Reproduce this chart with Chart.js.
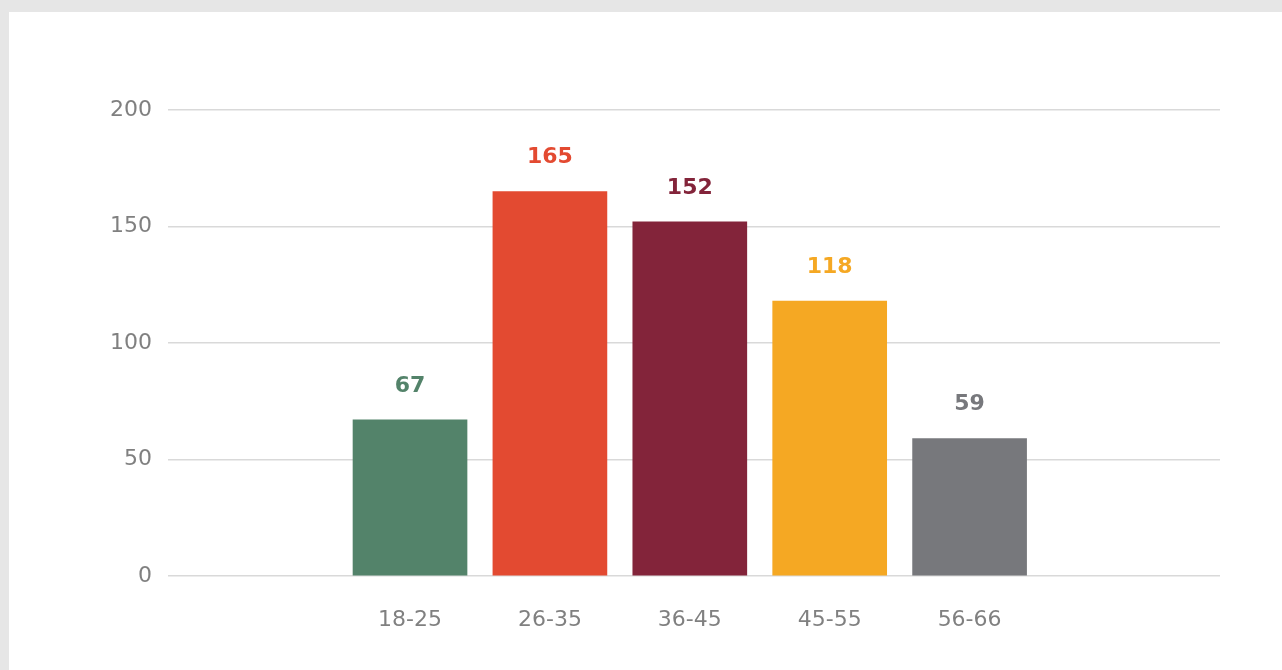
<!DOCTYPE html>
<html>
<head>
<meta charset="utf-8">
<script src="https://cdn.jsdelivr.net/npm/chart.js@4"></script>
<style>
  html, body { margin: 0; padding: 0; background: #e6e6e6; overflow: hidden; }
  #panel { position: absolute; left: 9px; top: 12px; width: 1273px; height: 658px; background: #fff; }
  canvas { display: block; }
</style>
</head>
<body>
<div id="panel"><canvas id="ageChart" width="1273" height="658"></canvas></div>
<script>
var ageLabels = ['18-25', '26-35', '36-45', '45-55', '56-66'];
var ageCounts = [67, 165, 152, 118, 59];
var barColors = ['#53836a', '#e34a31', '#83243a', '#f5a823', '#77787c'];
var yTicks = [0, 50, 100, 150, 200];

var points = ageCounts.map(function (v, i) { return { x: i + 1, y: v }; });

// draws the number above each bar in the bar's colour
var valueLabels = {
    id: 'valueLabels',
    afterDatasetsDraw: function (chart) {
        var ctx = chart.ctx;
        var meta = chart.getDatasetMeta(0);
        ctx.save();
        ctx.font = 'bold 22px "DejaVu Sans"';
        ctx.textAlign = 'center';
        ctx.textBaseline = 'middle';
        meta.data.forEach(function (bar, i) {
            ctx.fillStyle = barColors[i];
            ctx.fillText(ageCounts[i], bar.x, bar.y - 34);
        });
        ctx.restore();
    }
};

new Chart('ageChart', {
    type: 'bar',
    data: {
        datasets: [{
            data: points,
            backgroundColor: barColors,
            barThickness: 114
        }]
    },
    plugins: [valueLabels],
    options: {
        responsive: false,
        animation: false,
        layout: { padding: { top: 98, right: 62, left: 0, bottom: 0 } },
        plugins: { legend: { display: false }, tooltip: { enabled: false } },
        scales: {
            x: {
                type: 'linear',
                offset: false,
                min: -0.73,
                max: 6.79,
                grid: { display: false },
                border: { display: false },
                afterFit: function (s) { s.height = 94; },
                afterBuildTicks: function (s) {
                    s.ticks = ageLabels.map(function (l, i) { return { value: i + 1 }; });
                },
                ticks: {
                    autoSkip: false,
                    maxRotation: 0,
                    padding: 23,
                    color: '#808080',
                    font: { family: 'DejaVu Sans', size: 22 },
                    callback: function (v) { return ageLabels[v - 1] || ''; }
                }
            },
            y: {
                min: 0,
                max: 200,
                afterFit: function (s) { s.width = 159; },
                afterBuildTicks: function (s) {
                    s.ticks = yTicks.map(function (v) { return { value: v }; });
                },
                grid: { color: '#d9d9d9', lineWidth: 1.5, drawTicks: false },
                border: { display: false },
                ticks: {
                    padding: 16,
                    color: '#808080',
                    font: { family: 'DejaVu Sans', size: 22 }
                }
            }
        }
    }
});
</script>
</body>
</html>
